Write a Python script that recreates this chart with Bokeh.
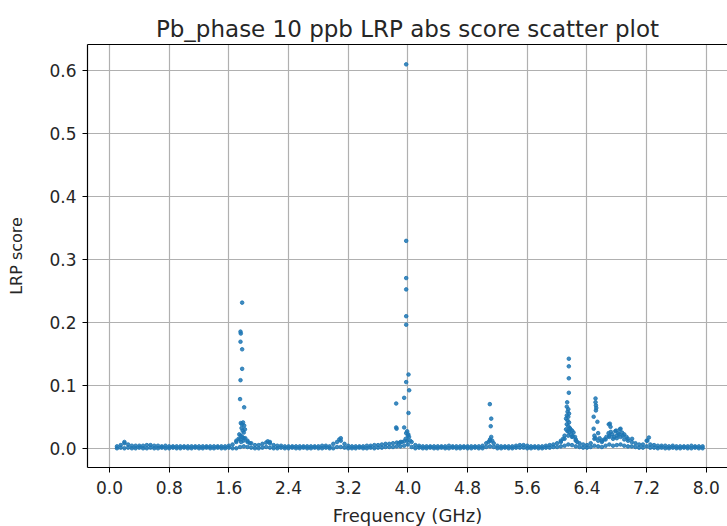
from bokeh.plotting import figure
from bokeh.models import (ColumnDataSource, FixedTicker, PrintfTickFormatter,
                          LinearAxis, Range1d)
from bokeh.embed import file_html
from bokeh.resources import INLINE

# Axis ticks
x_ticks = [0.0, 0.8, 1.6, 2.4, 3.2, 4.0, 4.8, 5.6, 6.4, 7.2, 8.0]
y_ticks = [0.0, 0.1, 0.2, 0.3, 0.4, 0.5, 0.6]

# Sweep frequencies (GHz) for the low-level background band, one row per 0.8 GHz
band_freq = [
    0.10, 0.15, 0.20, 0.25, 0.30, 0.35, 0.40, 0.45, 0.50, 0.55, 0.60, 0.65, 0.70, 0.75, 0.80, 0.85,
    0.90, 0.95, 1.00, 1.05, 1.10, 1.15, 1.20, 1.25, 1.30, 1.35, 1.40, 1.45, 1.50, 1.55, 1.60, 1.65,
    1.70, 1.75, 1.80, 1.85, 1.90, 1.95, 2.00, 2.05, 2.10, 2.15, 2.20, 2.25, 2.30, 2.35, 2.40, 2.45,
    2.50, 2.55, 2.60, 2.65, 2.70, 2.75, 2.80, 2.85, 2.90, 2.95, 3.00, 3.05, 3.10, 3.15, 3.20, 3.25,
    3.30, 3.35, 3.40, 3.45, 3.50, 3.55, 3.60, 3.65, 3.70, 3.75, 3.80, 3.85, 3.90, 3.95, 4.00, 4.05,
    4.10, 4.15, 4.20, 4.25, 4.30, 4.35, 4.40, 4.45, 4.50, 4.55, 4.60, 4.65, 4.70, 4.75, 4.80, 4.85,
    4.90, 4.95, 5.00, 5.05, 5.10, 5.15, 5.20, 5.25, 5.30, 5.35, 5.40, 5.45, 5.50, 5.55, 5.60, 5.65,
    5.70, 5.75, 5.80, 5.85, 5.90, 5.95, 6.00, 6.05, 6.10, 6.15, 6.20, 6.25, 6.30, 6.35, 6.40, 6.45,
    6.50, 6.55, 6.60, 6.65, 6.70, 6.75, 6.80, 6.85, 6.90, 6.95, 7.00, 7.05, 7.10, 7.15, 7.20, 7.25,
    7.30, 7.35, 7.40, 7.45, 7.50, 7.55, 7.60, 7.65, 7.70, 7.75, 7.80, 7.85, 7.90, 7.95,
]

# Upper edge of the background band at each sweep frequency
band_top = [
    0.003, 0.005, 0.008, 0.006, 0.004, 0.004, 0.004, 0.004, 0.005, 0.005, 0.004, 0.004, 0.003, 0.004, 0.003, 0.003,
    0.003, 0.003, 0.003, 0.003, 0.003, 0.003, 0.003, 0.003, 0.003, 0.003, 0.003, 0.003, 0.003, 0.003, 0.004, 0.006,
    0.010, 0.014, 0.016, 0.012, 0.008, 0.005, 0.005, 0.007, 0.009, 0.010, 0.005, 0.004, 0.004, 0.003, 0.003, 0.003,
    0.003, 0.003, 0.003, 0.003, 0.003, 0.003, 0.003, 0.004, 0.004, 0.003, 0.007, 0.010, 0.012, 0.007, 0.004, 0.003,
    0.003, 0.003, 0.003, 0.004, 0.004, 0.005, 0.005, 0.006, 0.007, 0.007, 0.008, 0.009, 0.010, 0.011, 0.020, 0.010,
    0.005, 0.004, 0.003, 0.003, 0.003, 0.003, 0.003, 0.003, 0.003, 0.004, 0.003, 0.003, 0.003, 0.003, 0.003, 0.003,
    0.003, 0.003, 0.004, 0.008, 0.012, 0.008, 0.004, 0.003, 0.003, 0.003, 0.003, 0.004, 0.005, 0.005, 0.004, 0.003,
    0.003, 0.003, 0.003, 0.004, 0.005, 0.006, 0.008, 0.010, 0.015, 0.020, 0.018, 0.012, 0.008, 0.006, 0.005, 0.008,
    0.015, 0.012, 0.010, 0.014, 0.018, 0.015, 0.016, 0.018, 0.014, 0.012, 0.010, 0.008, 0.006, 0.006, 0.012, 0.006,
    0.005, 0.004, 0.004, 0.004, 0.003, 0.004, 0.003, 0.003, 0.003, 0.003, 0.004, 0.003, 0.003, 0.003,
]

# Lower edge of the background band
band_low = [
    0.000, 0.001, 0.000, 0.001, 0.000, 0.000, 0.001, 0.000, 0.000, 0.001, 0.000, 0.000, 0.001, 0.000, 0.000, 0.001,
    0.000, 0.000, 0.001, 0.000, 0.000, 0.001, 0.000, 0.000, 0.001, 0.000, 0.000, 0.001, 0.000, 0.000, 0.001, 0.000,
    0.000, 0.002, 0.003, 0.002, 0.001, 0.000, 0.000, 0.001, 0.002, 0.001, 0.000, 0.000, 0.001, 0.000, 0.000, 0.001,
    0.000, 0.000, 0.001, 0.000, 0.000, 0.001, 0.000, 0.000, 0.001, 0.000, 0.000, 0.002, 0.002, 0.001, 0.000, 0.000,
    0.000, 0.001, 0.000, 0.000, 0.001, 0.000, 0.001, 0.001, 0.002, 0.002, 0.002, 0.003, 0.003, 0.004, 0.006, 0.002,
    0.000, 0.001, 0.000, 0.000, 0.001, 0.000, 0.000, 0.001, 0.000, 0.000, 0.001, 0.000, 0.000, 0.001, 0.000, 0.000,
    0.001, 0.000, 0.000, 0.002, 0.003, 0.002, 0.000, 0.000, 0.001, 0.000, 0.000, 0.001, 0.001, 0.001, 0.000, 0.000,
    0.001, 0.000, 0.000, 0.001, 0.001, 0.002, 0.002, 0.003, 0.004, 0.006, 0.005, 0.003, 0.002, 0.001, 0.001, 0.002,
    0.004, 0.003, 0.002, 0.004, 0.006, 0.004, 0.005, 0.006, 0.004, 0.003, 0.003, 0.002, 0.001, 0.001, 0.003, 0.001,
    0.001, 0.000, 0.001, 0.000, 0.000, 0.001, 0.000, 0.000, 0.001, 0.000, 0.000, 0.001, 0.000, 0.000,
]

# Response near 1.8 GHz (plus small shoulders at 0.2 and 2.1 GHz)
peak18_freq = [1.778, 1.756, 1.760, 1.756, 1.778, 1.778, 1.756, 1.750, 1.805, 1.760, 1.775, 1.790,
               1.805, 1.770, 1.785, 1.800, 1.815, 1.740, 1.760, 1.780, 1.820, 1.700, 1.730, 1.850,
               1.880, 2.120, 2.150, 1.795, 1.765, 0.200]
peak18_score = [0.231, 0.185, 0.182, 0.169, 0.157, 0.126, 0.108, 0.078, 0.065, 0.040, 0.038, 0.041,
                0.036, 0.032, 0.028, 0.025, 0.030, 0.022, 0.020, 0.018, 0.016, 0.012, 0.015, 0.010,
                0.008, 0.011, 0.008, 0.012, 0.010, 0.010]

# Response near 4.0 GHz (plus the bump at 3.1 GHz)
peak40_freq = [3.977, 3.977, 3.977, 3.977, 3.977, 3.977, 4.008, 3.977, 4.017, 3.950, 3.843, 4.008,
               3.843, 3.848, 3.950, 3.977, 3.990, 4.005, 4.015, 3.970, 3.990, 4.030, 3.920, 3.880,
               3.080, 3.100]
peak40_score = [0.609, 0.329, 0.270, 0.252, 0.2095, 0.196, 0.117, 0.105, 0.092, 0.080, 0.071, 0.056,
                0.033, 0.031, 0.033, 0.024, 0.027, 0.022, 0.018, 0.015, 0.012, 0.012, 0.010, 0.008,
                0.014, 0.016]

# Response near 5.1 GHz
peak51_freq = [5.098, 5.117, 5.110, 5.117, 5.100, 5.130, 5.080]
peak51_score = [0.070, 0.047, 0.035, 0.018, 0.014, 0.012, 0.010]

# Response near 6.2 GHz
peak62_freq = [6.157, 6.157, 6.157, 6.157, 6.135, 6.130, 6.150, 6.140, 6.160, 6.130, 6.150, 6.120,
               6.140, 6.160, 6.130, 6.150, 6.170, 6.120, 6.140, 6.160, 6.180, 6.200, 6.220, 6.190,
               6.210, 6.240, 6.250, 6.100, 6.080, 6.050, 6.270]
peak62_score = [0.142, 0.130, 0.111, 0.088, 0.073, 0.066, 0.062, 0.058, 0.055, 0.052, 0.050, 0.047,
                0.044, 0.041, 0.038, 0.035, 0.032, 0.030, 0.027, 0.026, 0.030, 0.028, 0.025, 0.022,
                0.019, 0.018, 0.014, 0.020, 0.015, 0.012, 0.010]

# Responses between 6.5 and 7.3 GHz
peak65_freq = [6.515, 6.515, 6.520, 6.525, 6.520, 6.490, 6.540, 6.490, 6.515, 6.500, 6.550, 6.570,
               6.600, 6.693, 6.716, 6.707, 6.690, 6.720, 6.700, 6.740, 6.760, 6.850, 6.840, 6.830,
               6.870, 6.800, 6.820, 6.880, 6.900, 6.930, 6.950, 7.005, 7.230, 7.210, 6.630, 6.660,
               6.780, 6.790]
peak65_score = [0.079, 0.073, 0.068, 0.064, 0.060, 0.050, 0.042, 0.031, 0.016, 0.020, 0.024, 0.016,
                0.012, 0.038, 0.034, 0.039, 0.024, 0.026, 0.020, 0.022, 0.018, 0.031, 0.030, 0.022,
                0.025, 0.020, 0.024, 0.020, 0.022, 0.018, 0.015, 0.015, 0.017, 0.012, 0.014, 0.018,
                0.027, 0.028]

BLUE = "#1f77b4"
FONT = "DejaVu Sans"

p = figure(
    width=727, height=526,
    frame_width=640, frame_height=423,
    min_border_left=87, min_border_right=0, min_border_top=44, min_border_bottom=59,
    x_range=Range1d(-0.295, 8.284), y_range=Range1d(-0.0305, 0.6405),
    output_backend="svg", toolbar_location=None,
    title="Pb_phase 10 ppb LRP abs score scatter plot",
)
p.background_fill_color = "white"
p.border_fill_color = "white"
p.outline_line_color = None

# Scatter layers
band_src = ColumnDataSource(dict(f=band_freq + band_freq, s=band_top + band_low))
p.scatter("f", "s", source=band_src, size=3.6, color=BLUE, alpha=0.85)
for fr, sc in [(peak18_freq, peak18_score), (peak40_freq, peak40_score),
               (peak51_freq, peak51_score), (peak62_freq, peak62_score),
               (peak65_freq, peak65_score)]:
    p.scatter(fr, sc, size=3.6, color=BLUE, alpha=0.85)

# Title
p.title.align = "center"
p.title.text_font = FONT
p.title.text_font_size = "23px"
p.title.text_font_style = "normal"
p.title.text_color = "#262626"
p.title.standoff = 5

# Axes
for ax in (p.xaxis[0], p.yaxis[0]):
    ax.axis_line_color = "black"
    ax.axis_line_width = 1.2
    ax.major_tick_line_color = "black"
    ax.major_tick_out = 5
    ax.major_tick_in = 0
    ax.minor_tick_line_color = None
    ax.major_label_text_font = FONT
    ax.major_label_text_font_size = "17px"
    ax.major_label_text_color = "#262626"
    ax.axis_label_text_font = FONT
    ax.axis_label_text_font_style = "normal"
    ax.axis_label_text_color = "#262626"

p.xaxis.axis_label_text_font_size = "18px"
p.yaxis.axis_label_text_font_size = "16px"
p.xaxis.ticker = FixedTicker(ticks=x_ticks)
p.yaxis.ticker = FixedTicker(ticks=y_ticks)
p.xaxis.formatter = PrintfTickFormatter(format="%.1f")
p.yaxis.formatter = PrintfTickFormatter(format="%.1f")
p.xaxis.axis_label = "Frequency (GHz)"
p.yaxis.axis_label = "LRP score"
p.xaxis.major_label_standoff = 8
p.xaxis.axis_label_standoff = 8
p.yaxis.major_label_standoff = 6
p.yaxis.axis_label_standoff = 20

# Top spine
top = LinearAxis(ticker=FixedTicker(ticks=[]), major_label_text_font_size="0px",
                 axis_line_color="black", axis_line_width=1.2,
                 major_tick_line_color=None, minor_tick_line_color=None)
p.add_layout(top, "above")

p.grid.grid_line_color = "#b0b0b0"
p.grid.grid_line_width = 1.2

open("out.html", "w").write(file_html(p, INLINE))
